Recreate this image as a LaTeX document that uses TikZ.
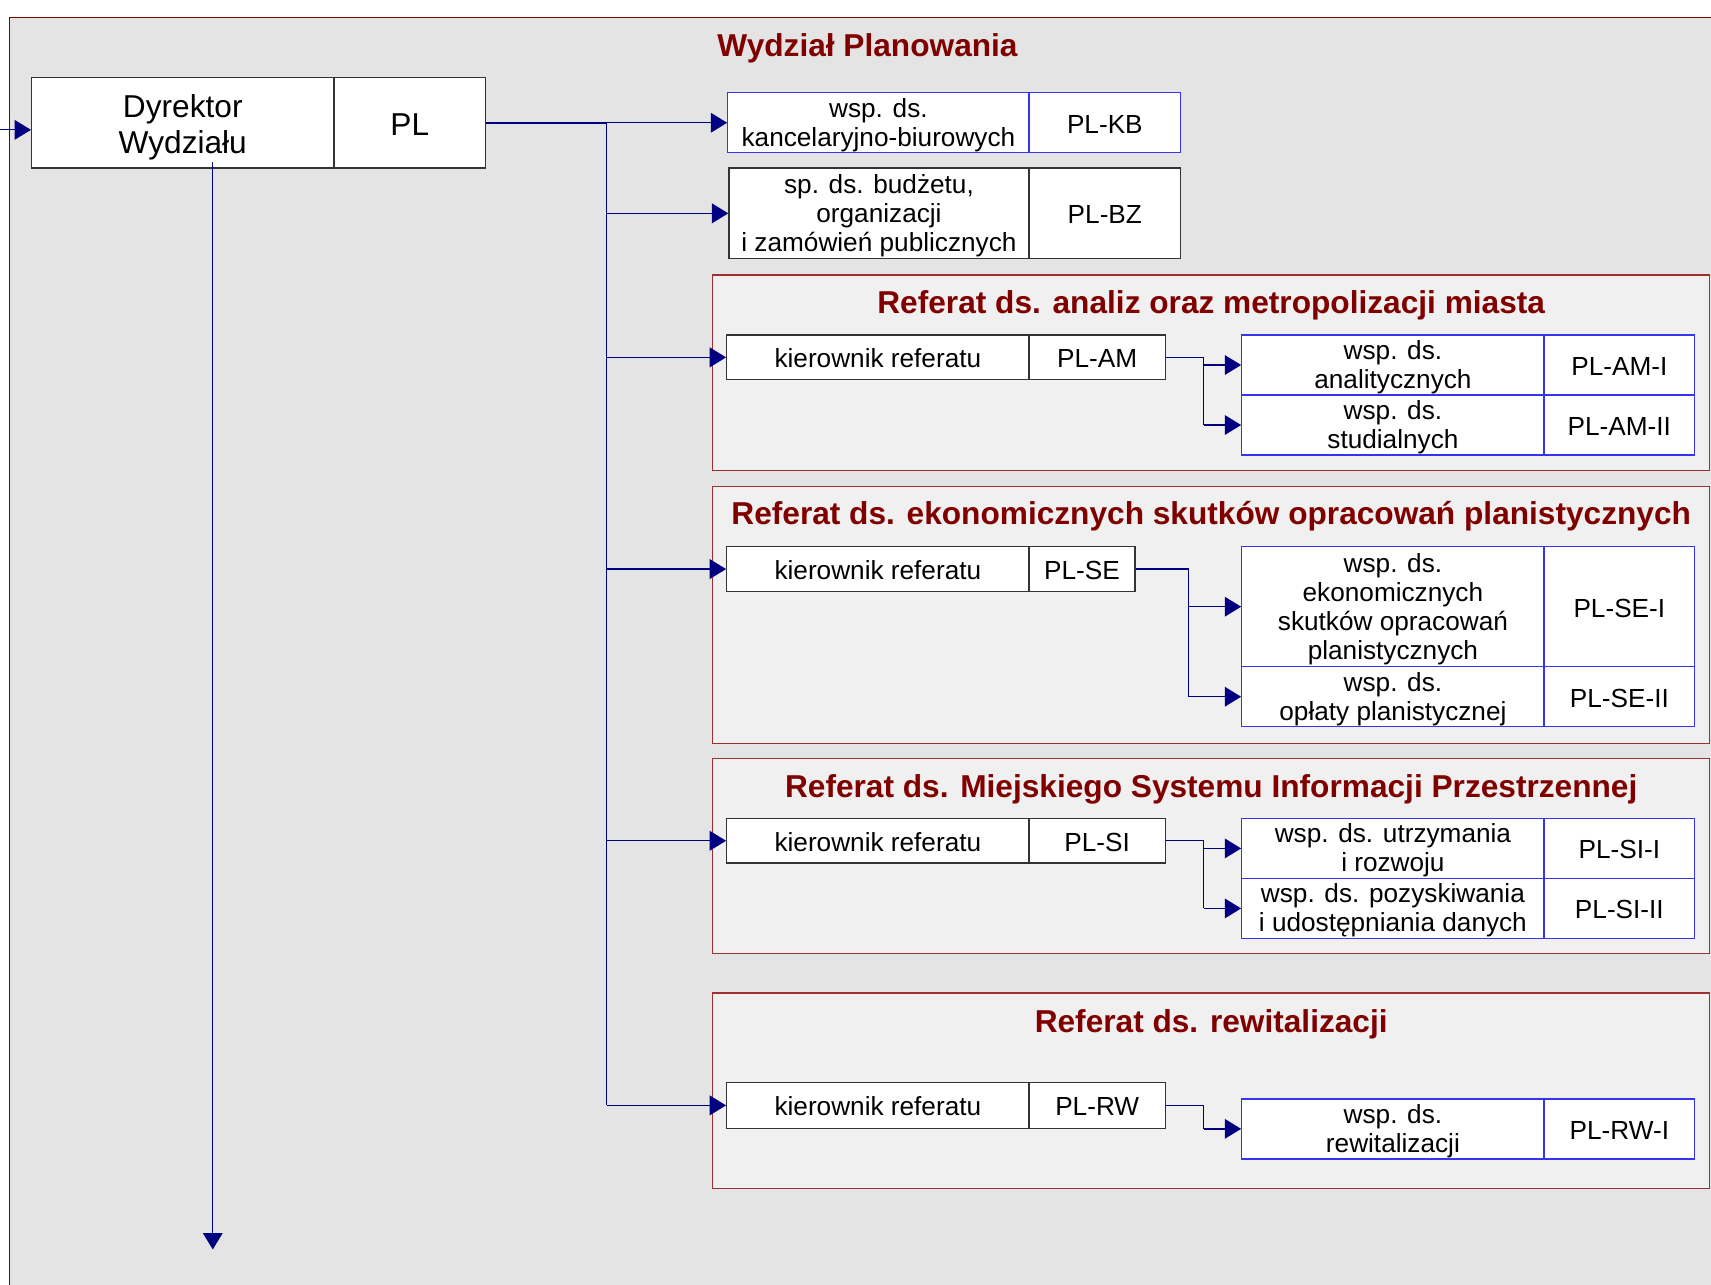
\documentclass[tikz,border=0pt]{standalone}
\usepackage{fontspec}
\setmainfont{Liberation Sans}
\usetikzlibrary{arrows.meta}
\definecolor{framebg}{HTML}{E4E4E4}
\definecolor{panelbg}{HTML}{F0F0F0}
\definecolor{darkred}{HTML}{800000}
\definecolor{panelred}{HTML}{A03030}
\definecolor{boxblue}{HTML}{3535F0}
\definecolor{boxgray}{HTML}{333333}
\definecolor{navyline}{HTML}{000080}
\newcommand\mystrut{\rule[-0.212em]{0pt}{1.117em}}
\newcommand\onestrut{\rule[-0.212em]{0pt}{1.212em}}
\newcommand\topstrut{\rule{0pt}{0.9em}}
\newcommand\botstrut{\rule[-0.212em]{0pt}{0.212em}}
\newcommand\bigtopstrut{\rule{0pt}{1.0em}}
\tikzset{
  cell/.style={draw=boxgray, line width=1.2pt, fill=white, inner sep=0pt, align=center,
    font=\fontsize{24}{26.5}\selectfont,
    execute at begin node=\onestrut, execute at end node=\mystrut},
  bcell/.style={cell, draw=boxblue},
  ptitle/.style={text=darkred, inner sep=0pt, font=\bfseries\fontsize{29}{32}\selectfont,
    execute at begin node=\mystrut, execute at end node=\mystrut},
  panel/.style={draw=panelred, line width=1pt, fill=panelbg},
  conn/.style={draw=navyline, line width=1.3pt},
  arr/.style={conn, -{Triangle[length=15pt,width=18pt]}},
}
\begin{document}
\begin{tikzpicture}[x=1pt,y=-1pt]
\useasboundingbox (0,0) rectangle (1568,1177);
% outer frame
\fill[framebg] (9,16) rectangle (1600,1200);
\draw[darkred, line width=1pt] (1600,16) -- (9,16) -- (9,1200);
\node[ptitle] (title) at (795,42) {Wydział Planowania};

% panels
\draw[panel] (653,252) rectangle (1567,431);
\draw[panel] (653,446) rectangle (1567,681);
\draw[panel] (653,695) rectangle (1567,874);
\draw[panel] (653,910) rectangle (1567,1089);
\node[ptitle] (tam) at (1110,277) {Referat ds. analiz oraz metropolizacji miasta};
\node[ptitle] (tse) at (1110,471) {Referat ds. ekonomicznych skutków opracowań planistycznych};
\node[ptitle] (tsi) at (1110,721) {Referat ds. Miejskiego Systemu Informacji Przestrzennej};
\node[ptitle] (trw) at (1110,936) {Referat ds. rewitalizacji};

% director
\node[cell, minimum width=277pt, minimum height=83pt, font=\fontsize{29}{33}\selectfont] (dyr) at (167.5,112.5) {\bigtopstrut Dyrektor\\Wydziału};
\node[cell, minimum width=139pt, minimum height=83pt, font=\fontsize{29}{33}\selectfont] (pl) at (375.5,112.5) {PL};

% KB, BZ
\node[bcell, minimum width=276pt, minimum height=55pt] (kb) at (805,112.5) {\topstrut wsp. ds.\\kancelaryjno-biurowych\botstrut};
\node[bcell, minimum width=139pt, minimum height=55pt] (kbc) at (1012.5,112.5) {PL-KB};
\node[cell, minimum width=275pt, minimum height=83pt] (bz) at (805.5,195.5) {\topstrut sp. ds. budżetu,\\organizacji\\i zamówień publicznych\botstrut};
\node[cell, minimum width=139pt, minimum height=83pt] (bzc) at (1012.5,195.5) {PL-BZ};

% AM
\node[cell, minimum width=277pt, minimum height=41pt] (amk) at (804.5,327.5) {kierownik referatu};
\node[cell, minimum width=125pt, minimum height=41pt] (amkc) at (1005.5,327.5) {PL-AM};
\node[bcell, minimum width=277pt, minimum height=55pt] (ami) at (1276.5,334.5) {\topstrut wsp. ds.\\analitycznych\botstrut};
\node[bcell, minimum width=138pt, minimum height=55pt] (amic) at (1484,334.5) {PL-AM-I};
\node[bcell, minimum width=277pt, minimum height=55pt] (amii) at (1276.5,389.5) {\topstrut wsp. ds.\\studialnych\botstrut};
\node[bcell, minimum width=138pt, minimum height=55pt] (amiic) at (1484,389.5) {PL-AM-II};

% SE
\node[cell, minimum width=277pt, minimum height=41pt] (sek) at (804.5,521.5) {kierownik referatu};
\node[cell, minimum width=97pt, minimum height=41pt] (sekc) at (991.5,521.5) {PL-SE};
\node[bcell, minimum width=277pt, minimum height=110pt] (sei) at (1276.5,556) {\topstrut wsp. ds.\\ekonomicznych\\skutków opracowań\\planistycznych\botstrut};
\node[bcell, minimum width=138pt, minimum height=110pt] (seic) at (1484,556) {PL-SE-I};
\node[bcell, minimum width=277pt, minimum height=55pt] (seii) at (1276.5,638.5) {\topstrut wsp. ds.\\opłaty planistycznej\botstrut};
\node[bcell, minimum width=138pt, minimum height=55pt] (seiic) at (1484,638.5) {PL-SE-II};

% SI
\node[cell, minimum width=277pt, minimum height=41pt] (sik) at (804.5,770.5) {kierownik referatu};
\node[cell, minimum width=125pt, minimum height=41pt] (sikc) at (1005.5,770.5) {PL-SI};
\node[bcell, minimum width=277pt, minimum height=55pt] (sii) at (1276.5,777.5) {\topstrut wsp. ds. utrzymania\\i rozwoju\botstrut};
\node[bcell, minimum width=138pt, minimum height=55pt] (siic) at (1484,777.5) {PL-SI-I};
\node[bcell, minimum width=277pt, minimum height=55pt] (siii) at (1276.5,832.5) {\topstrut wsp. ds. pozyskiwania\\i udostępniania danych\botstrut};
\node[bcell, minimum width=138pt, minimum height=55pt] (siiic) at (1484,832.5) {PL-SI-II};

% RW
\node[cell, minimum width=277pt, minimum height=42pt] (rwk) at (804.5,1013) {kierownik referatu};
\node[cell, minimum width=125pt, minimum height=42pt] (rwkc) at (1005.5,1013) {PL-RW};
\node[bcell, minimum width=277pt, minimum height=55pt] (rwi) at (1276.5,1034.5) {\topstrut wsp. ds.\\rewitalizacji\botstrut};
\node[bcell, minimum width=138pt, minimum height=55pt] (rwic) at (1484,1034.5) {PL-RW-I};

% incoming and outgoing of director
\coordinate (inc) at (0,119);
\draw[arr, line width=1pt] (inc) -- (inc -| dyr.west);
\coordinate (down) at (195,1145);
\draw[arr, line width=1pt] ([yshift=6pt]dyr.south -| down) -- (down);

% trunk
\coordinate (t0) at (556,112.5);
\draw[conn, line width=1.8pt] (pl.east) -- (t0);
\draw[conn] (t0) -- (t0 |- rwk.west);
\draw[arr] (t0) -- (kb.west);
\draw[arr] (t0 |- bz.west) -- (bz.west);
\draw[arr] (t0 |- amk.west) -- (amk.west);
\draw[arr] (t0 |- sek.west) -- (sek.west);
\draw[arr] (t0 |- sik.west) -- (sik.west);
\draw[arr] (t0 |- rwk.west) -- (rwk.west);

% AM branch
\coordinate (amj) at (1103,327.5);
\draw[conn] (amkc.east) -- (amj) -- (amj |- amii.west);
\draw[arr] (amj |- ami.west) -- (ami.west);
\draw[arr] (amj |- amii.west) -- (amii.west);

% SE branch
\coordinate (sej) at (1089,521.5);
\draw[conn] (sekc.east) -- (sej) -- (sej |- seii.west);
\draw[arr] (sej |- sei.west) -- (sei.west);
\draw[arr] (sej |- seii.west) -- (seii.west);

% SI branch
\coordinate (sij) at (1103,770.5);
\draw[conn] (sikc.east) -- (sij) -- (sij |- siii.west);
\draw[arr] (sij |- sii.west) -- (sii.west);
\draw[arr] (sij |- siii.west) -- (siii.west);

% RW branch
\coordinate (rwj) at (1103,1013);
\draw[conn] (rwkc.east) -- (rwj) -- (rwj |- rwi.west);
\draw[arr] (rwj |- rwi.west) -- (rwi.west);
\end{tikzpicture}
\end{document}
